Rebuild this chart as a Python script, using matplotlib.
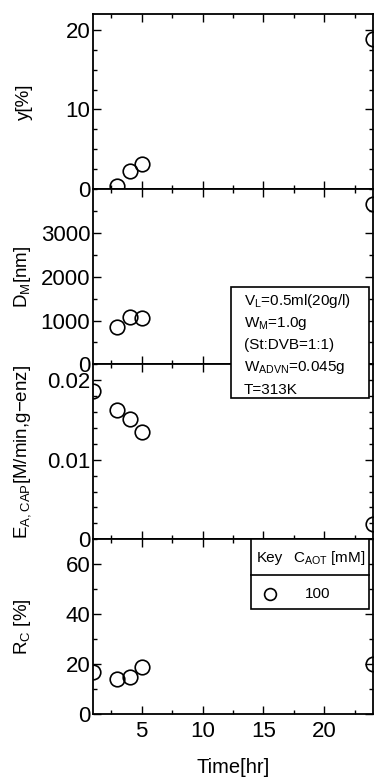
"""Time course of yield, particle size, enzyme activity and recovery for AOT-coated beads."""

import matplotlib
matplotlib.use("Agg")
import matplotlib.pyplot as plt
from matplotlib.lines import Line2D
from matplotlib.patches import Rectangle
from matplotlib.ticker import MultipleLocator

plt.rcParams["font.family"] = ["Liberation Sans", "DejaVu Sans"]
plt.rcParams["mathtext.default"] = "regular"

# measurements, C_AOT = 100 mM
time_y = [3, 4, 5, 24]
yield_pct = [0.4, 2.3, 3.2, 18.9]

time_d = [3, 4, 5, 24]
diameter_nm = [850, 1080, 1050, 3660]

time_e = [1, 3, 4, 5, 24]
activity = [0.0187, 0.0162, 0.0151, 0.0135, 0.0019]

time_r = [1, 3, 4, 5, 24]
recovery_pct = [16.9, 14.0, 15.0, 19.1, 20.0]

panels = [
    (time_y, yield_pct, "y[%]", (0, 22), [0, 10, 20], ["0", "10", "20"], 2.5),
    (time_d, diameter_nm, "D$_{M}$[nm]", (0, 4000),
     [0, 1000, 2000, 3000], ["0", "1000", "2000", "3000"], 500),
    (time_e, activity, "E$_{A,CAP}$[M/min,g\u2212enz]", (0, 0.022),
     [0, 0.01, 0.02], ["0", "0.01", "0.02"], 0.002),
    (time_r, recovery_pct, "R$_{C}$ [%]", (0, 70),
     [0, 20, 40, 60], ["0", "20", "40", "60"], 10),
]

conditions = [
    "V$_{L}$=0.5ml(20g/l)",
    "W$_{M}$=1.0g",
    "(St:DVB=1:1)",
    "W$_{ADVN}$=0.045g",
    "T=313K",
]

W, H = 376, 781
fig = plt.figure(figsize=(W / 100, H / 100), dpi=100)

left, width = 93 / W, 280 / W
tops = [14, 189.3, 364.3, 539.3]
ph = 175

axes = []
for i, (t, v, label, ylim, ticks, ticklabels, minor) in enumerate(panels):
    ax = fig.add_axes([left, 1 - (tops[i] + ph) / H, width, ph / H])
    ax.plot(t, v, "o", ms=10.5, mfc="none", mec="black", mew=1.2)
    ax.set_xlim(1, 24)
    ax.set_ylim(*ylim)
    ax.xaxis.set_major_locator(MultipleLocator(5))
    ax.xaxis.set_minor_locator(MultipleLocator(2.5))
    ax.set_yticks(ticks)
    ax.set_yticklabels(ticklabels)
    ax.yaxis.set_minor_locator(MultipleLocator(minor))
    ax.tick_params(which="both", direction="in", top=True, right=True,
                   width=1.0, labelsize=16)
    ax.tick_params(axis="y", pad=2)
    ax.tick_params(axis="x", pad=5)
    ax.tick_params(which="major", length=5.5)
    ax.tick_params(which="minor", length=3)
    if i < 3:
        ax.tick_params(labelbottom=False)
    for s in ax.spines.values():
        s.set_linewidth(1.3)
    ax.set_ylabel(label, fontsize=13.5)
    ax.yaxis.set_label_coords(-0.215, 0.5)
    axes.append(ax)

axes[-1].set_xlabel("Time[hr]", fontsize=14.5, labelpad=11)

# experimental conditions box
fig.patches.append(Rectangle((231 / W, 1 - 398 / H), 138 / W, 111 / H,
                             transform=fig.transFigure, fc="white",
                             ec="black", lw=1.2, zorder=5))
for k, line in enumerate(conditions):
    fig.text(244 / W, 1 - (301.5 + 22 * k) / H, line, fontsize=11,
             va="center", ha="left", zorder=6)

# key table
fig.patches.append(Rectangle((250.7 / W, 1 - 608.5 / H), 118.6 / W, 69.2 / H,
                             transform=fig.transFigure, fc="white",
                             ec="black", lw=1.2, zorder=5))
fig.lines.append(Line2D([250.7 / W, 369.3 / W], [1 - 575 / H] * 2,
                        transform=fig.transFigure, color="black", lw=1.2,
                        zorder=6))
fig.text(270 / W, 1 - 558 / H, "Key", fontsize=11, ha="center", va="center",
         zorder=6)
fig.text(329 / W, 1 - 558 / H, "C$_{AOT}$ [mM]", fontsize=11, ha="center",
         va="center", zorder=6)
fig.lines.append(Line2D([270 / W], [1 - 594 / H], marker="o", ms=8.5,
                        mfc="none", mec="black", mew=1.2,
                        transform=fig.transFigure, zorder=6))
fig.text(318 / W, 1 - 594 / H, "100", fontsize=11, ha="center", va="center",
         zorder=6)

fig.savefig("out.png", dpi=100)
